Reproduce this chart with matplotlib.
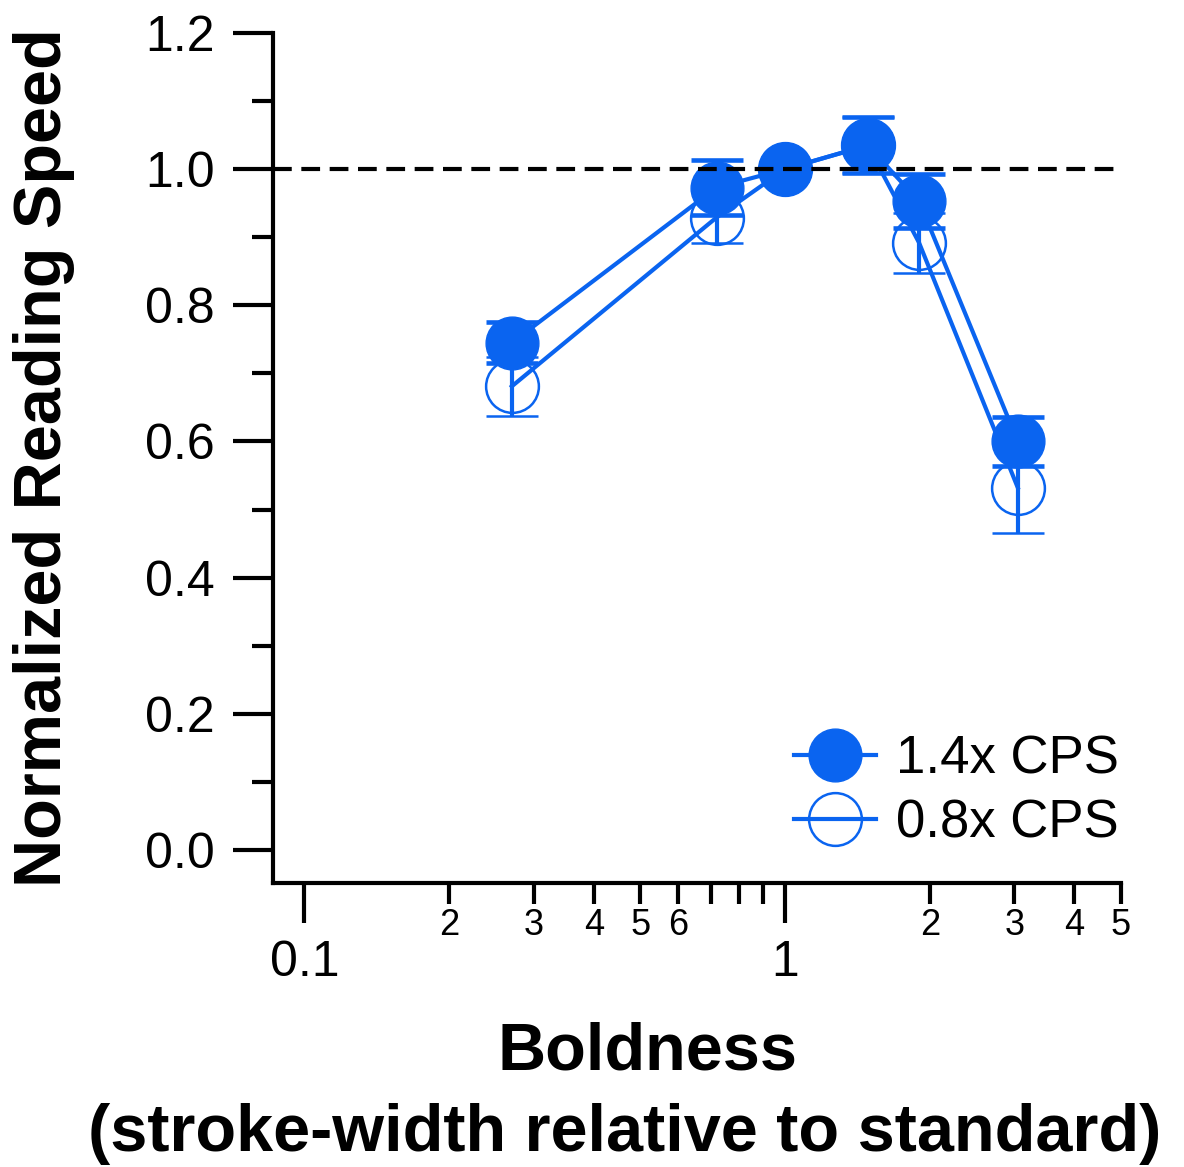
import matplotlib
matplotlib.use("Agg")
import matplotlib.pyplot as plt
from matplotlib.ticker import FixedLocator, FixedFormatter

plt.rcParams['font.family'] = ['Liberation Sans', 'DejaVu Sans']

# boldness (stroke width relative to standard)
boldness = [0.27, 0.72, 1.0, 1.485, 1.90, 3.05]

# normalized reading speed
speed_14 = [0.745, 0.973, 1.0, 1.035, 0.953, 0.600]
err_14 = [0.030, 0.040, 0.0, 0.041, 0.040, 0.036]
speed_08 = [0.681, 0.929, 1.0, 1.035, 0.892, 0.532]
err_08 = [0.043, 0.038, 0.0, 0.041, 0.044, 0.066]

labels = ['1.4x CPS', '0.8x CPS']

x_major = [0.1, 1]
x_major_labels = ['0.1', '1']
x_minor = [0.2, 0.3, 0.4, 0.5, 0.6, 0.7, 0.8, 0.9, 2, 3, 4, 5]
x_minor_labels = ['2', '3', '4', '5', '6', '', '', '', '2', '3', '4', '5']
y_major = [0.0, 0.2, 0.4, 0.6, 0.8, 1.0, 1.2]
y_minor = [0.1, 0.3, 0.5, 0.7, 0.9, 1.1]

blue = '#0A64F0'

fig = plt.figure(figsize=(11.84, 11.67), dpi=100)
ax = fig.add_axes([273 / 1184, 1 - 883 / 1167, 848 / 1184, 850 / 1167])

ax.set_xscale('log')

eb_open = ax.errorbar(boldness, speed_08, yerr=err_08, color=blue, lw=3,
                      marker='o', ms=38, mfc='none', mec=blue, mew=1.8,
                      elinewidth=3, capsize=19, capthick=3.3, zorder=3)
eb_fill = ax.errorbar(boldness, speed_14, yerr=err_14, color=blue, lw=3,
                      marker='o', ms=38, mfc=blue, mec=blue,
                      elinewidth=3, capsize=19, capthick=3.3, zorder=4)

ax.axhline(1.0, color='black', lw=3, dashes=(4.5, 2.3), zorder=5)

ax.set_xlim(0.086, 5.0)
ax.set_ylim(-0.0485, 1.2)

ax.xaxis.set_major_locator(FixedLocator(x_major))
ax.xaxis.set_major_formatter(FixedFormatter(x_major_labels))
ax.xaxis.set_minor_locator(FixedLocator(x_minor))
ax.xaxis.set_minor_formatter(FixedFormatter(x_minor_labels))
ax.yaxis.set_major_locator(FixedLocator(y_major))
ax.yaxis.set_major_formatter(FixedFormatter(['%.1f' % v for v in y_major]))
ax.yaxis.set_minor_locator(FixedLocator(y_minor))

for side in ['top', 'right']:
    ax.spines[side].set_visible(False)
for side in ['left', 'bottom']:
    ax.spines[side].set_linewidth(3)

ax.tick_params(axis='both', which='major', length=29, width=3, direction='out')
ax.tick_params(axis='both', which='minor', length=15, width=3, direction='out')
ax.tick_params(axis='y', which='major', labelsize=36, pad=13)
ax.tick_params(axis='x', which='major', labelsize=36, pad=12)
ax.tick_params(axis='x', which='minor', labelsize=26, pad=3)

ax.set_ylabel('Normalized Reading Speed', fontsize=48, fontweight='bold')
ax.yaxis.set_label_coords(-0.234, 0.5)

fig.text(647 / 1184, 1 - 1070 / 1167, 'Boldness', fontsize=48,
         fontweight='bold', ha='center', va='baseline')
fig.text(625 / 1184, 1 - 1151 / 1167, '(stroke-width relative to standard)',
         fontsize=48, fontweight='bold', ha='center', va='baseline')

ax.legend([eb_fill[0], eb_open[0]], labels, loc='lower right',
          bbox_to_anchor=(1119 / 1184, 1 - 848 / 1167),
          bbox_transform=fig.transFigure, frameon=False, fontsize=38,
          borderpad=0, borderaxespad=0, handlelength=1.55,
          handletextpad=0.38, labelspacing=0.25)

fig.savefig('out.png', dpi=100)
